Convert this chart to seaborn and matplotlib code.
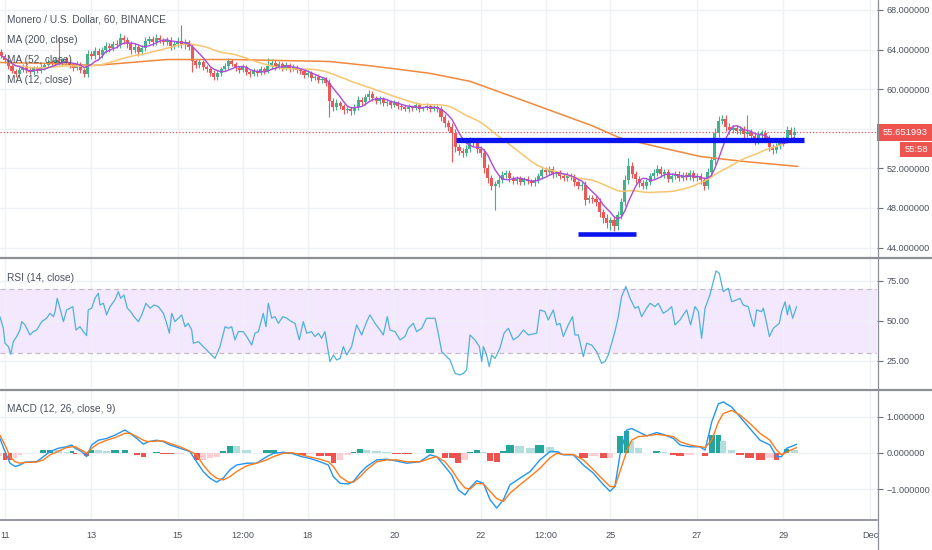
import numpy as np
import pandas as pd
import matplotlib
matplotlib.use("Agg")
import matplotlib.pyplot as plt
import matplotlib.transforms as mtransforms
from matplotlib.patches import Rectangle
from matplotlib.lines import Line2D
import seaborn as sns

# ---------------- data (time in hours from Nov 11 00:00) ----------------
candle_start = -2
candle_step = 2
first_open = 63.8
closes = [
    63.4, 62.9, 62.3, 61.8, 61.5, 61.9, 62.3, 61.9, 61.7, 62.1, 61.8, 62.2,
    62.4, 62.7, 62.5, 62.9, 62.6, 63.0, 62.7, 62.4, 62.1, 62.5, 61.9, 61.5,
    63.6, 63.4, 63.9, 63.5, 64.0, 64.4, 64.2, 64.6, 64.5, 65.2, 65.0, 64.6,
    64.0, 64.3, 63.8, 64.2, 64.9, 65.1, 64.8, 65.2, 65.0, 64.8, 65.0, 64.4,
    64.6, 64.9, 64.5, 64.8, 64.3, 62.8, 62.4, 62.7, 62.2, 62.0, 61.6, 61.2,
    61.6, 62.0, 62.3, 62.8, 62.5, 62.1, 61.9, 62.2, 61.7, 61.5, 61.8, 61.6,
    62.0, 61.8, 62.3, 62.6, 62.2, 62.5, 62.1, 62.4, 62.0, 62.2, 61.9, 61.8,
    61.4, 61.6, 61.1, 61.2, 60.9, 61.0, 60.6, 58.8, 58.2, 58.6, 58.3, 57.9,
    58.0, 57.8, 58.2, 58.9, 58.7, 59.2, 59.5, 59.1, 58.8, 59.0, 58.6, 58.7,
    58.4, 58.6, 58.3, 58.2, 58.0, 58.2, 58.1, 58.4, 58.0, 58.1, 58.3, 58.0,
    58.2, 58.0, 57.2, 56.6, 56.2, 55.6, 54.2, 53.8, 53.6, 54.0, 54.8, 54.6,
    54.0, 53.6, 52.0, 51.0, 50.2, 50.4, 50.8, 51.3, 51.5, 51.0, 50.7, 50.9,
    50.6, 50.9, 50.7, 50.5, 50.8, 51.2, 51.8, 51.6, 51.9, 51.4, 51.5, 51.2,
    51.0, 51.3, 51.1, 50.6, 50.2, 50.3, 48.8, 49.0, 48.9, 48.6, 47.6, 47.0,
    46.5, 46.8, 46.2, 47.3, 48.6, 50.8, 52.2, 51.4, 50.9, 50.5, 50.2, 50.6,
    51.2, 51.5, 51.9, 51.4, 51.6, 50.9, 51.2, 51.4, 51.0, 51.3, 51.1, 51.5,
    51.0, 51.2, 50.8, 50.2, 51.6, 52.8, 55.6, 56.8, 57.0, 56.2, 55.9, 56.1,
    55.8, 56.0, 55.5, 55.7, 55.3, 54.8, 55.4, 55.6, 55.1, 54.2, 53.9, 54.3,
    54.6, 54.9, 55.9, 55.4, 55.65,
]
# upper / lower wick length of each candle, in tenths of a dollar
wick_up = [
    3, 2, 2, 3, 2, 3, 2, 2, 3, 2, 2, 3,
    2, 3, 2, 4, 3, 2, 3, 2, 2, 3, 2, 2,
    4, 3, 4, 3, 3, 4, 3, 3, 4, 5, 3, 3,
    3, 4, 2, 3, 4, 3, 3, 4, 3, 2, 3, 3,
    3, 4, 3, 3, 2, 3, 2, 3, 2, 2, 2, 3,
    3, 2, 3, 4, 3, 2, 2, 3, 2, 2, 3, 2,
    3, 2, 3, 4, 3, 3, 2, 3, 2, 3, 2, 2,
    2, 3, 2, 2, 3, 2, 2, 4, 3, 4, 2, 2,
    3, 2, 3, 4, 3, 3, 4, 3, 2, 3, 2, 2,
    2, 3, 2, 2, 2, 3, 2, 3, 2, 2, 3, 2,
    2, 2, 3, 3, 3, 4, 4, 3, 3, 4, 4, 3,
    3, 3, 4, 4, 3, 3, 4, 4, 3, 3, 2, 3,
    3, 2, 3, 2, 3, 3, 4, 3, 3, 3, 2, 3,
    3, 3, 2, 3, 2, 3, 4, 3, 3, 3, 4, 3,
    4, 3, 4, 4, 4, 5, 5, 4, 3, 3, 3, 3,
    3, 4, 4, 3, 3, 3, 3, 3, 3, 3, 3, 3,
    3, 3, 3, 3, 4, 4, 5, 5, 4, 4, 4, 3,
    3, 3, 3, 3, 3, 3, 4, 3, 3, 3, 3, 3,
    3, 3, 4, 3, 3,
]
wick_dn = [
    2, 3, 3, 2, 3, 2, 2, 3, 2, 3, 2, 2,
    3, 2, 3, 2, 2, 3, 2, 3, 3, 2, 3, 3,
    3, 4, 3, 4, 3, 3, 4, 3, 3, 3, 4, 4,
    4, 3, 4, 3, 3, 3, 4, 3, 3, 3, 3, 4,
    3, 3, 3, 4, 3, 4, 3, 3, 3, 3, 3, 3,
    3, 3, 2, 3, 2, 3, 3, 2, 3, 3, 2, 3,
    2, 3, 2, 3, 3, 2, 3, 2, 3, 2, 3, 3,
    3, 2, 3, 2, 3, 3, 3, 5, 4, 3, 3, 4,
    3, 4, 3, 3, 3, 3, 3, 3, 3, 3, 3, 3,
    3, 2, 3, 3, 2, 3, 3, 2, 3, 2, 2, 3,
    2, 3, 4, 4, 4, 5, 5, 4, 4, 3, 3, 3,
    4, 4, 5, 5, 4, 4, 3, 3, 3, 4, 3, 3,
    3, 3, 3, 3, 3, 3, 3, 3, 3, 4, 3, 3,
    3, 3, 3, 4, 3, 4, 5, 3, 4, 4, 5, 5,
    5, 4, 5, 4, 4, 4, 4, 4, 4, 4, 3, 3,
    3, 3, 3, 3, 4, 3, 3, 3, 3, 3, 3, 3,
    3, 3, 4, 4, 3, 4, 4, 4, 3, 4, 4, 3,
    3, 3, 4, 3, 4, 4, 3, 3, 4, 4, 4, 3,
    3, 3, 3, 4, 3,
]
spike_high = {16: 65.3, 50: 66.5, 74: 63.2, 174: 53.0, 207: 57.4, 220: 56.2}
spike_low = {53: 61.7, 91: 57.2, 125: 52.6, 137: 47.8, 169: 45.8}

ma200_hours = [-2.7, 25, 50, 70, 90, 125, 180, 201, 219, 236, 258, 290, 326, 341, 364, 386, 410, 440]
ma200_vals = [62.7, 62.6, 62.4, 62.7, 63.0, 63.0, 62.8, 62.4, 62.0, 61.6, 60.8, 58.7, 56.3, 55.1, 54.1, 53.2, 52.7, 52.2]

last_price = 55.651993
support_level = 54.9
support_hours = [250.3, 443.4]
bottom_level = 45.4
bottom_hours = [318, 350]

rsi_hours = [
    -2.7, -0.8, 0.1, 2.0, 3.3, 4.7, 6.6, 8.4, 9.4, 11.2, 14.0, 15.8, 17.7, 20.5, 23.2, 25.1, 27.0, 27.9,
    29.1, 30.6, 32.5, 34.3, 36.2, 37.7, 39.5, 41.7, 43.6, 45.4, 46.3, 48.2, 50.0, 51.9, 52.8, 54.7, 56.5,
    58.4, 61.1, 63.0, 64.3, 66.1, 68.0, 69.8, 71.7, 74.1, 76.0, 78.3, 80.6, 82.8, 85.2, 88.0, 89.8, 91.3,
    92.6, 94.4, 96.3, 98.1, 100.0, 101.8, 103.7, 104.6, 107.4, 110.1, 112.9, 116.6, 119.4, 122.2, 124.0,
    125.9, 127.7, 129.6, 132.3, 134.2, 137.0, 138.8, 140.7, 143.4, 144.9, 146.2, 148.1, 149.9, 151.8,
    154.2, 156.4, 159.1, 161.0, 163.4, 165.6, 167.5, 170.2, 172.1, 174.0, 175.8, 177.6, 180.4, 182.3,
    184.1, 186.0, 187.8, 189.7, 192.4, 195.2, 198.0, 200.8, 202.6, 205.4, 208.2, 210.0, 212.2, 213.7,
    216.5, 219.3, 222.0, 223.9, 226.6, 228.5, 231.3, 234.0,
    235.9, 238.7, 240.5, 242.4, 245.1, 247.0, 249.8, 252.5, 254.4, 256.2, 258.1, 260.9, 263.3, 264.6,
    265.5, 267.3, 268.8, 270.1, 272.0, 274.7, 277.0, 279.4, 282.1, 284.9, 287.7, 290.5, 295.1, 296.9,
    299.7, 301.5, 304.3, 306.2, 308.0, 309.9, 312.6, 315.0, 316.3, 318.2, 321.0, 322.8, 325.6, 328.4,
    331.1, 333.0, 334.8, 336.7, 338.5, 340.4, 342.2, 344.6, 346.9, 349.6, 351.5, 353.3, 356.1, 358.0,
    360.7, 362.6, 365.3, 368.1, 370.0, 371.8, 374.6, 376.4, 378.3, 380.5, 382.9, 384.8, 386.6, 388.5,
    391.2, 394.6, 396.4, 398.6, 401.4, 403.3, 406.0, 407.9, 409.7, 412.5, 414.4, 415.7, 417.1, 419.9,
    420.8, 422.3, 424.2, 426.4, 429.7, 431.0, 432.9, 434.2, 435.3, 437.1, 439.3,
]
rsi_vals = [
    52.6, 45.3, 35.9, 33.8, 29.0, 36.9, 40.1, 44.2, 49.5, 47.4, 41.1, 43.2, 44.2, 49.5, 51.6, 54.7, 52.6, 55.8,
    64.1, 57.9, 49.5, 56.8, 57.9, 58.9, 44.2, 46.3, 43.2, 40.7, 56.8, 57.9, 64.1, 67.3, 59.9, 61.0, 53.7,
    58.9, 63.1, 68.3, 64.1, 66.2, 57.9, 55.8, 52.6, 49.5, 53.7, 61.0, 57.9, 59.9, 58.9, 54.7, 48.4, 42.2,
    54.7, 49.5, 51.6, 53.7, 46.3, 48.4, 44.2, 35.9, 36.9, 33.8, 30.6, 26.4, 33.8, 46.3, 45.3,
    46.3, 38.0, 43.2, 43.2, 40.1, 34.8, 42.2, 43.2, 54.7, 46.3, 61.0, 51.6, 52.6, 48.4,
    52.6, 51.6, 49.5, 48.4, 38.0, 49.5, 42.2, 43.2, 40.1, 42.2, 39.0, 43.2, 24.4, 28.5,
    25.4, 26.4, 33.8, 28.5, 33.8, 47.4, 41.1, 49.5, 53.7, 48.4, 44.2, 41.1, 52.6, 44.2,
    43.2, 38.0, 40.1, 45.3, 48.4, 43.2, 45.3, 51.6,
    51.6, 51.6, 42.2, 30.6, 27.5, 25.4, 17.0, 16.0, 17.0, 19.1, 41.1, 37.9, 33.8, 24.4,
    33.8, 28.5, 21.2, 28.5, 26.4, 32.7, 42.2, 45.3, 38.0, 40.1, 44.2, 41.1, 42.2, 56.8,
    55.8, 50.5, 56.8, 47.4, 48.4, 40.1, 47.4, 52.6, 41.1, 41.1, 27.5, 35.9, 34.8, 30.6,
    23.3, 24.4, 28.5, 35.9, 43.2, 52.6, 65.2, 71.5, 64.1, 57.9, 58.9, 52.6, 57.9, 61.0,
    58.9, 61.0, 54.7, 56.8, 58.9, 47.4, 50.5, 53.7, 56.8, 47.4, 58.9, 55.8, 39.0, 57.9,
    66.2, 81.3, 79.8, 68.3, 70.4, 62.0, 63.1, 64.1, 59.9, 58.9, 50.5, 46.3, 56.8, 55.8,
    57.9, 50.5, 40.1, 45.3, 48.4, 55.8, 61.9, 53.7, 59.9, 51.6, 58.9,
]

macd_hours = [
    -2.7, 0.1, 2.9, 5.7, 8.4, 11.2, 17.7, 21.4, 25.1, 29.7, 34.3, 37.1, 39.0, 42.6, 45.4, 48.2, 51.9,
    56.5, 61.1, 66.7, 69.5, 73.2, 76.9, 79.6, 84.3, 88.0, 91.7, 97.2, 102.7, 106.4, 110.1, 113.8,
    117.5, 121.2, 124.9, 128.6, 134.2, 139.7, 145.3, 149.0, 154.5, 159.1, 164.7, 169.3, 174.9,
    179.5, 182.3, 186.0, 190.6, 193.4, 197.1, 200.8, 206.3, 211.9, 217.4, 223.0, 230.3, 235.9,
    239.6, 244.2, 247.9, 251.6, 255.3, 258.1, 261.8, 265.5, 269.2, 272.9, 276.6, 280.3, 285.8,
    291.4, 296.9, 302.5, 306.2, 309.9, 315.4, 321.0, 326.5, 332.1, 335.8, 338.5, 341.3, 345.0,
    347.8, 351.5, 356.1, 361.7, 365.3, 370.9, 374.6, 380.1, 385.7, 388.5, 392.2, 395.9, 398.6,
    403.3, 407.9, 413.4, 419.0, 424.5, 428.2, 431.0, 433.8, 437.5, 439.3,
]
macd_vals = [
    0.40, 0.04, -0.28, -0.37, -0.33, -0.25, -0.24, -0.10, 0.04, 0.13, 0.17, 0.22, 0.13, 0.04, -0.10, 0.22, 0.35,
    0.40, 0.49, 0.63, 0.54, 0.40, 0.24, 0.31, 0.35, 0.31, 0.22, 0.13, 0.04, -0.24, -0.51, -0.69,
    -0.80, -0.69, -0.46, -0.33, -0.28, -0.28, -0.10, -0.01, 0.02, -0.01, -0.10, -0.15, -0.24,
    -0.33, -0.65, -0.83, -0.85, -0.78, -0.55, -0.37, -0.19, -0.17, -0.22, -0.28, -0.24, -0.05,
    -0.10, -0.37, -0.60, -1.01, -1.15, -0.96, -0.76, -0.83, -1.28, -1.51, -1.28, -0.87, -0.69,
    -0.51, -0.19, 0.04, 0.04, -0.05, -0.05, -0.33, -0.55, -0.87, -1.05, -0.92, -0.05, 0.63,
    0.67, 0.58, 0.47, 0.56, 0.51, 0.40, 0.22, 0.17, 0.17, 0.08, 0.85, 1.35, 1.40,
    1.26, 0.99, 0.67, 0.35, 0.22, -0.10, -0.10, 0.13, 0.20, 0.24,
]
signal_vals = [
    0.49, 0.22, -0.10, -0.24, -0.28, -0.26, -0.25, -0.19, -0.05, 0.05, 0.15, 0.17, 0.17, 0.08, -0.01, 0.13, 0.26,
    0.35, 0.42, 0.54, 0.54, 0.45, 0.35, 0.31, 0.33, 0.33, 0.26, 0.17, 0.05, -0.05, -0.33, -0.55,
    -0.69, -0.74, -0.65, -0.51, -0.35, -0.28, -0.19, -0.10, -0.01, 0.01, -0.05, -0.11, -0.17,
    -0.24, -0.37, -0.65, -0.80, -0.80, -0.65, -0.46, -0.24, -0.19, -0.19, -0.24, -0.24, -0.15,
    -0.10, -0.24, -0.46, -0.74, -0.96, -0.99, -0.83, -0.85, -1.05, -1.25, -1.33, -1.10, -0.87,
    -0.65, -0.42, -0.13, -0.01, -0.04, -0.04, -0.19, -0.46, -0.74, -0.92, -0.92, -0.51, 0.04,
    0.35, 0.45, 0.47, 0.51, 0.49, 0.45, 0.31, 0.22, 0.17, 0.15, 0.35, 0.85, 1.08,
    1.17, 1.04, 0.81, 0.54, 0.35, 0.08, -0.05, 0.02, 0.11, 0.15,
]

tick_hours = [0, 48, 96, 132, 168, 216, 264, 300, 336, 384, 432, 480]
tick_labels = ["11", "13", "15", "12:00", "18", "20", "22", "12:00", "25", "27", "29", "Dec"]

# ---------------- style ----------------
sns.set_theme(style="white")
plt.rcParams["font.family"] = ["Liberation Sans", "DejaVu Sans"]
plt.rcParams["axes.unicode_minus"] = True

W, H = 932, 550
GRID = "#eef1f6"
TXT = "#4c525e"
BORDER = "#8c8f98"
UP, DOWN = "#45b08c", "#ec5757"
XMIN, XMAX = -2.66, 483.9

fig = plt.figure(figsize=(W / 100, H / 100), dpi=100)
fig.patch.set_facecolor("white")


def pane(top, bottom):
    ax = fig.add_axes([0, 1 - bottom / H, 877 / W, (bottom - top) / H])
    ax.set_facecolor("white")
    for s in ax.spines.values():
        s.set_visible(False)
    ax.set_xlim(XMIN, XMAX)
    ax.set_xticks(tick_hours)
    ax.tick_params(axis="x", length=0, labelbottom=False)
    ax.yaxis.tick_right()
    ax.tick_params(axis="y", length=4, width=0.8, color="#6a6d78",
                   labelsize=6.6, labelcolor=TXT, pad=3)
    ax.grid(True, color=GRID, lw=1)
    ax.set_axisbelow(True)
    return ax


ax_p = pane(0, 257)
ax_r = pane(259, 388)
ax_m = pane(391, 519)

# ---------------- price pane ----------------
df = pd.DataFrame({"close": closes})
df["hour"] = candle_start + candle_step * np.arange(len(df))
df["open"] = [first_open] + closes[:-1]
df["high"] = df[["open", "close"]].max(axis=1) + np.array(wick_up) / 10
df["low"] = df[["open", "close"]].min(axis=1) - np.array(wick_dn) / 10
for k, v in spike_high.items():
    df.loc[k, "high"] = v
for k, v in spike_low.items():
    df.loc[k, "low"] = v
df["color"] = np.where(df["close"] >= df["open"], UP, DOWN)
df["ma12"] = df["close"].rolling(6, min_periods=1).mean()
df["ma52"] = df["close"].rolling(26, min_periods=1).mean()

ax_p.vlines(df["hour"], df["low"], df["high"], colors=df["color"], lw=0.8, zorder=2)
body = (df["close"] - df["open"]).abs().clip(lower=0.1)
ax_p.bar(df["hour"], body, bottom=df[["open", "close"]].min(axis=1), width=1.7,
         color=df["color"], lw=0, zorder=3)

sns.lineplot(x=ma200_hours, y=ma200_vals, ax=ax_p, color="#f0883e", lw=1.1, zorder=4)
sns.lineplot(x=df["hour"], y=df["ma52"], ax=ax_p, color="#f7c56f", lw=1.1, zorder=4)
sns.lineplot(x=df["hour"], y=df["ma12"], ax=ax_p, color="#a94bdc", lw=1.0, zorder=5)

ax_p.axhline(last_price, color="#ef5350", lw=0.9, ls=(0, (1, 1.6)), zorder=1)
ax_p.hlines(support_level, *support_hours, color="#0a14ee", lw=3.8, zorder=6)
ax_p.hlines(bottom_level, *bottom_hours, color="#0a14ee", lw=3.3, zorder=6)

ax_p.set_ylim(43.05, 69.01)
p_ticks = [44, 48, 52, 56, 60, 64, 68]
ax_p.set_yticks(p_ticks)
ax_p.set_yticklabels(["" if t == 56 else f"{t:.6f}" for t in p_ticks])
ax_p.set_xlabel("")
ax_p.set_ylabel("")

# last price boxes on the price scale
tr = mtransforms.blended_transform_factory(fig.transFigure, ax_p.transData)
fig.add_artist(Rectangle((877 / W, last_price - 0.86), 55 / W, 1.72, transform=tr,
                         color="#ef5350", lw=0))
fig.text(905 / W, last_price, f"{last_price:.6f}", transform=tr, ha="center",
         va="center", color="white", fontsize=6.8)
fig.add_artist(Rectangle((900 / W, 53.15), 32 / W, 1.52, transform=tr,
                         color="#ef5350", lw=0))
fig.text(916 / W, 53.91, "55:58", transform=tr, ha="center", va="center",
         color="white", fontsize=6.8)

# ---------------- RSI pane ----------------
ax_r.axhspan(30, 70, color="#f3e8fd", lw=0, zorder=0.5)
for lvl in (30, 70):
    ax_r.axhline(lvl, color="#c7b9cc", lw=0.9, ls=(0, (4, 3)), zorder=1)
sns.lineplot(x=rsi_hours, y=rsi_vals, ax=ax_r, color="#4fb1dc", lw=0.9, zorder=3)
ax_r.set_ylim(7.8, 88.8)
ax_r.set_yticks([25, 50, 75])
ax_r.set_yticklabels(["25.00", "50.00", "75.00"])
ax_r.set_xlabel("")
ax_r.set_ylabel("")

# ---------------- MACD pane ----------------
mh = np.array(macd_hours)
diff = np.array(macd_vals) - np.array(signal_vals)
prev = np.r_[diff[0], diff[:-1]]
hist_colors = np.where(diff >= 0,
                       np.where(diff >= prev, "#26a69a", "#b2dfdb"),
                       np.where(diff < prev, "#ef5350", "#ffcdd2"))
ax_m.bar(mh, diff, width=np.gradient(mh) * 0.9, color=hist_colors, lw=0, zorder=2)
sns.lineplot(x=macd_hours, y=macd_vals, ax=ax_m, color="#2196f3", lw=1.0, zorder=4)
sns.lineplot(x=macd_hours, y=signal_vals, ax=ax_m, color="#ff7a1a", lw=1.0, zorder=4)
ax_m.set_ylim(-1.81, 1.70)
ax_m.set_yticks([-1, 0, 1])
ax_m.set_yticklabels(["\u22121.000000", "0.000000", "1.000000"])
ax_m.set_xticks(tick_hours)
ax_m.set_xticklabels(tick_labels)
ax_m.tick_params(axis="x", length=4, width=0.8, color="#6a6d78", labelbottom=True,
                 labelsize=6.6, labelcolor=TXT, pad=5, direction="out")
ax_m.set_xlabel("")
ax_m.set_ylabel("")

# ---------------- frame lines ----------------
for yy in (258, 389.5):
    fig.add_artist(Line2D([0, 1], [1 - yy / H] * 2, transform=fig.transFigure,
                          color=BORDER, lw=1.6))
fig.add_artist(Line2D([0, 877 / W], [1 - 519.5 / H] * 2, transform=fig.transFigure,
                      color=BORDER, lw=1.3))
fig.add_artist(Line2D([877.5 / W] * 2, [0, 1], transform=fig.transFigure,
                      color=BORDER, lw=0.9))

# ---------------- legends ----------------
legend_items = [
    (20, "Monero / U.S. Dollar, 60, BINANCE"),
    (40, "MA (200, close)"),
    (60, "MA (52, close)"),
    (80, "MA (12, close)"),
    (278, "RSI (14, close)"),
    (409, "MACD (12, 26, close, 9)"),
]
for yy, label in legend_items:
    fig.text(7 / W, 1 - yy / H, label, ha="left", va="center", fontsize=7.3, color=TXT)

fig.savefig("out.png", dpi=100, facecolor="white")
